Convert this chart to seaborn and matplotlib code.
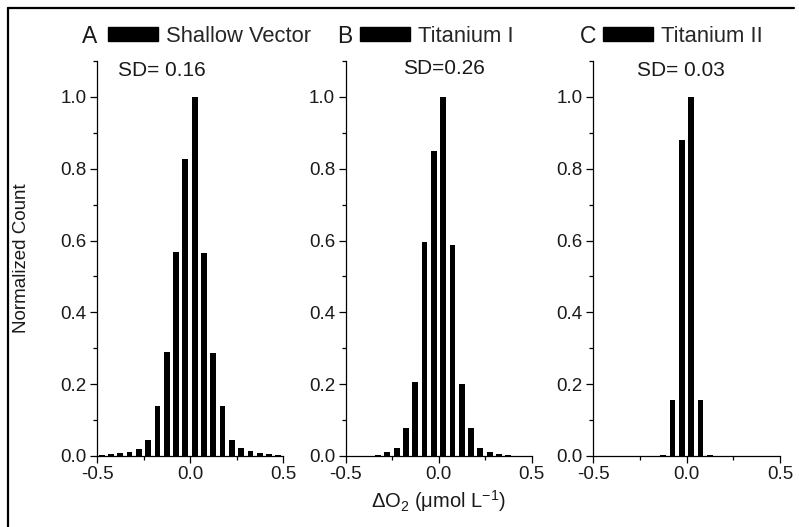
import matplotlib
matplotlib.use("Agg")
import matplotlib.pyplot as plt
from matplotlib.patches import Patch
from matplotlib.lines import Line2D
from matplotlib.ticker import MultipleLocator
import seaborn as sns
import pandas as pd

# ---- data ----
bin_centers = [-0.475, -0.425, -0.375, -0.325, -0.275, -0.225, -0.175, -0.125, -0.075, -0.025,
               0.025, 0.075, 0.125, 0.175, 0.225, 0.275, 0.325, 0.375, 0.425, 0.475]
shallow_vector = [0.003, 0.006, 0.009, 0.012, 0.020, 0.045, 0.140, 0.290, 0.569, 0.826,
                  1.000, 0.566, 0.288, 0.140, 0.045, 0.021, 0.013, 0.009, 0.006, 0.004]
titanium_i = [0.0, 0.0, 0.0, 0.004, 0.010, 0.021, 0.079, 0.206, 0.596, 0.850,
              1.000, 0.587, 0.200, 0.078, 0.022, 0.010, 0.005, 0.002, 0.0, 0.0]
titanium_ii = [0.0, 0.0, 0.0, 0.0, 0.0, 0.0, 0.0, 0.003, 0.157, 0.881,
               1.000, 0.157, 0.003, 0.0, 0.0, 0.0, 0.0, 0.0, 0.0, 0.0]
series_names = ["Shallow Vector", "Titanium I", "Titanium II"]
panel_letters = ["A", "B", "C"]
sd_labels = ["SD= 0.16", "SD=0.26", "SD= 0.03"]
x_ticks = [-0.5, 0.0, 0.5]
x_tick_labels = ["-0.5", "0.0", "0.5"]
y_ticks = [0.0, 0.2, 0.4, 0.6, 0.8, 1.0]
y_tick_labels = ["0.0", "0.2", "0.4", "0.6", "0.8", "1.0"]

sns.set_style("ticks")
plt.rcParams["font.family"] = ["Liberation Sans", "DejaVu Sans"]
plt.rcParams["mathtext.fontset"] = "custom"
plt.rcParams["mathtext.rm"] = "Liberation Sans"
plt.rcParams["mathtext.it"] = "Liberation Sans:italic"

W, H = 799, 527
fig = plt.figure(figsize=(W / 100, H / 100), dpi=100)
fig.patch.set_facecolor("white")

# axes positions in pixels: (left, right)
panel_px = [(97, 283), (345.5, 531.5), (593, 780)]
bottom_px, top_px = 456, 61
legend_dx = [11, 14.5, 10]
letter_dx = [-7, -1, -5]
sd_pos = [(0.35, 0.977), (0.53, 0.982), (0.47, 0.977)]

all_series = [shallow_vector, titanium_i, titanium_ii]
axes = []
for i, vals in enumerate(all_series):
    l, r = panel_px[i]
    ax = fig.add_axes([l / W, (H - bottom_px) / H, (r - l) / W, (bottom_px - top_px) / H])
    axes.append(ax)
    df = pd.DataFrame({"x": bin_centers, "y": vals})
    sns.barplot(data=df, x="x", y="y", native_scale=True, width=0.63,
                color="black", edgecolor="black", linewidth=0, errorbar=None,
                saturation=1, ax=ax)
    ax.set_xlim(-0.5, 0.5)
    ax.set_ylim(0, 1.1)
    ax.set_xticks(x_ticks)
    ax.set_xticklabels(x_tick_labels)
    ax.set_yticks(y_ticks)
    ax.set_yticklabels(y_tick_labels)
    ax.xaxis.set_minor_locator(MultipleLocator(0.25))
    ax.yaxis.set_minor_locator(MultipleLocator(0.1))
    ax.tick_params(which="major", direction="out", length=5, width=0.9, labelsize=13.5,
                   color="black", labelcolor="#1a1a1a", pad=2.5)
    ax.tick_params(which="minor", direction="out", length=3, width=0.9, color="black")
    for s in ["top", "right"]:
        ax.spines[s].set_visible(False)
    for s in ["left", "bottom"]:
        ax.spines[s].set_linewidth(0.9)
        ax.spines[s].set_color("black")
    ax.set_xlabel("")
    ax.set_ylabel("")
    ax.set_facecolor("white")

    # legend: black block + series name
    w = r - l
    ax.legend(handles=[Patch(facecolor="black", edgecolor="black")],
              labels=[series_names[i]], loc="center left",
              bbox_to_anchor=(legend_dx[i] / w, (bottom_px - 36) / (bottom_px - top_px)),
              frameon=False, borderpad=0, borderaxespad=0, handlelength=2.3,
              handleheight=0.62, handletextpad=0.35, fontsize=15.8)
    ax.text(letter_dx[i] / w, (bottom_px - 36) / (bottom_px - top_px), panel_letters[i],
            transform=ax.transAxes, ha="center", va="center", fontsize=16.5, color="#1a1a1a")
    ax.text(sd_pos[i][0], sd_pos[i][1], sd_labels[i], transform=ax.transAxes,
            ha="center", va="center", fontsize=15, color="#1a1a1a")

axes[0].set_ylabel("Normalized Count", fontsize=13.5, color="#1a1a1a")
axes[0].yaxis.set_label_coords((30 - 97) / 186, (bottom_px - 258) / (bottom_px - top_px))
axes[1].set_xlabel("ΔO$_2$ (μmol L$^{-1}$)", fontsize=14.5, color="#1a1a1a")
axes[1].xaxis.set_label_coords(0.5, (bottom_px - 488) / (bottom_px - top_px))

# outer frame lines (top and left)
fig.add_artist(Line2D([8 / W, 8 / W], [0, 1 - 8 / H], transform=fig.transFigure,
                      color="black", linewidth=1.6))
fig.add_artist(Line2D([8 / W, 794 / W], [1 - 8 / H, 1 - 8 / H], transform=fig.transFigure,
                      color="black", linewidth=1.6))

fig.savefig("out.png", dpi=100)
